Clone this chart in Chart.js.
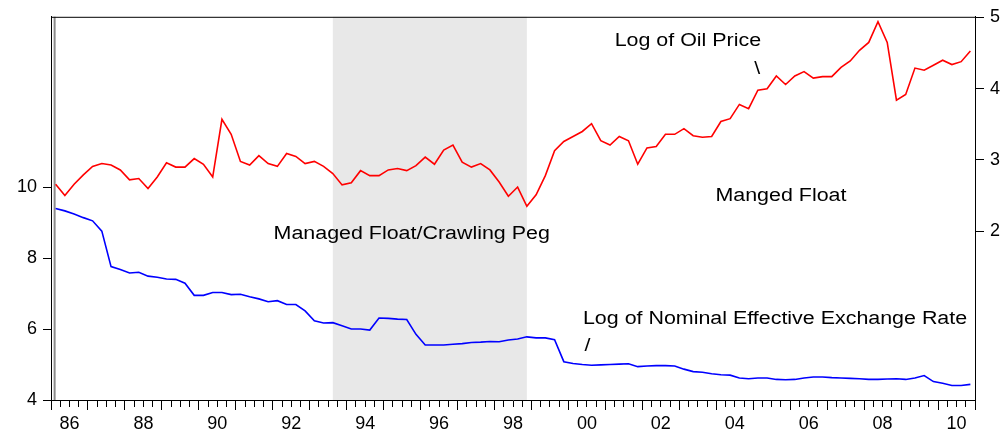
<!DOCTYPE html>
<html>
<head>
<meta charset="utf-8">
<script src="https://cdn.jsdelivr.net/npm/chart.js@4"></script>
<style>
html,body{margin:0;padding:0;background:#ffffff;}
#wrap{width:1008px;height:438px;position:relative;}
</style>
</head>
<body>
<div id="wrap"><canvas id="c"></canvas></div>
<script>
// ---------------- data ----------------
const firstYear = 1986;
const lastYear = 2010;
const quarters = [];
for (let y = firstYear; y <= lastYear; y++) {
  for (let q = 1; q <= 4; q++) quarters.push(y + 'Q' + q);
}

// Log of Oil Price (right axis)
const oilLog = [
  2.66,2.50,2.66,2.79,2.91,2.95,2.93,2.86,2.72,2.74,
  2.60,2.76,2.96,2.90,2.90,3.02,2.94,2.76,3.57,3.36,
  2.98,2.93,3.06,2.95,2.91,3.09,3.05,2.95,2.98,2.91,
  2.81,2.65,2.68,2.85,2.78,2.78,2.86,2.88,2.85,2.92,
  3.04,2.94,3.14,3.21,2.97,2.90,2.95,2.86,2.69,2.49,
  2.62,2.35,2.51,2.78,3.13,3.26,3.33,3.40,3.51,3.27,
  3.21,3.33,3.27,2.94,3.17,3.19,3.36,3.36,3.44,3.34,
  3.32,3.33,3.54,3.58,3.78,3.72,3.98,4.00,4.18,4.06,
  4.18,4.24,4.15,4.17,4.17,4.30,4.39,4.54,4.65,4.94,
  4.65,3.84,3.92,4.29,4.26,4.33,4.40,4.34,4.38,4.53
];

// Log of Nominal Effective Exchange Rate (left axis)
const neerLog = [
  9.40,9.33,9.24,9.14,9.05,8.76,7.76,7.68,7.58,7.60,
  7.49,7.46,7.41,7.40,7.29,6.95,6.95,7.03,7.03,6.97,
  6.98,6.91,6.85,6.77,6.80,6.69,6.69,6.51,6.23,6.17,
  6.18,6.09,6.00,6.00,5.97,6.31,6.30,6.28,6.27,5.85,
  5.55,5.55,5.55,5.57,5.59,5.62,5.63,5.65,5.64,5.69,
  5.72,5.78,5.75,5.75,5.70,5.08,5.03,5.00,4.98,4.99,
  5.00,5.01,5.02,4.94,4.96,4.97,4.97,4.96,4.87,4.80,
  4.78,4.74,4.71,4.70,4.62,4.60,4.62,4.62,4.58,4.57,
  4.58,4.62,4.65,4.65,4.63,4.62,4.61,4.60,4.58,4.58,
  4.59,4.60,4.58,4.62,4.69,4.52,4.47,4.41,4.41,4.44
];

const leftTicks = [4, 6, 8, 10];
const rightTicks = [2, 3, 4, 5];
const yearTickLabels = ['86','88','90','92','94','96','98','00','02','04','06','08','10'];

// shaded regimes (from / to observation)
const shadeFrom = ['1993Q3', '1986Q1'];
const shadeTo   = ['1998Q4', '1986Q1'];

// text annotations, anchored in data coordinates (category index, left-axis value)
const noteTexts = ['Log of Oil Price', '\\', 'Manged Float', 'Managed Float/Crawling Peg',
                   'Log of Nominal Effective Exchange Rate', '/'];
const noteIdx   = [60.5, 75.6, 71.41, 23.59, 57.07, 57.23];
const noteVal   = [13.97, 13.20, 9.60, 8.55, 6.14, 5.39];

// ---------------- chart ----------------
const FONT = '"Liberation Sans", Arial, Helvetica, sans-serif';
Chart.defaults.font.family = FONT;
Chart.defaults.font.size = 18;
Chart.defaults.color = '#000';

const shadePlugin = {
  id: 'shade',
  beforeDatasetsDraw(chart) {
    const {ctx, chartArea, scales} = chart;
    const xs = scales.x;
    ctx.save();
    for (let k = 0; k < shadeFrom.length; k++) {
      const x1 = xs.getPixelForValue(quarters.indexOf(shadeFrom[k]));
      const x2 = xs.getPixelForValue(quarters.indexOf(shadeTo[k]));
      if (Math.abs(x2 - x1) < 1) {
        ctx.strokeStyle = '#8c8c8c';
        ctx.lineWidth = 2;
        ctx.beginPath();
        ctx.moveTo(x1 - 1, chartArea.top);
        ctx.lineTo(x1 - 1, chartArea.bottom);
        ctx.stroke();
      } else {
        ctx.fillStyle = '#e8e8e8';
        ctx.fillRect(x1, chartArea.top, x2 - x1, chartArea.bottom - chartArea.top);
      }
    }
    ctx.restore();
  }
};

const framePlugin = {
  id: 'frame',
  afterDatasetsDraw(chart) {
    const {ctx, chartArea} = chart;
    ctx.save();
    ctx.strokeStyle = '#000';
    ctx.lineWidth = 1;
    ctx.beginPath();
    ctx.moveTo(chartArea.left, chartArea.top + 0.5);
    ctx.lineTo(chartArea.right, chartArea.top + 0.5);
    ctx.stroke();
    ctx.restore();
  }
};

const notesPlugin = {
  id: 'notes',
  afterDatasetsDraw(chart) {
    const {ctx, scales} = chart;
    ctx.save();
    ctx.fillStyle = '#000';
    ctx.font = '18px ' + FONT;
    ctx.textAlign = 'left';
    ctx.textBaseline = 'alphabetic';
    for (let k = 0; k < noteTexts.length; k++) {
      const px = scales.x.getPixelForValue(noteIdx[k]);
      const py = scales.y.getPixelForValue(noteVal[k]);
      ctx.save();
      ctx.translate(px, py);
      ctx.scale(1.19, 1);
      ctx.fillText(noteTexts[k], 0, 0);
      ctx.restore();
    }
    ctx.restore();
  }
};

new Chart(document.getElementById('c'), {
  type: 'line',
  data: {
    labels: quarters,
    datasets: [
      {
        label: 'Log of Oil Price',
        data: oilLog,
        yAxisID: 'y1',
        borderColor: '#ff0000',
        borderWidth: 1.6,
        pointRadius: 0,
        tension: 0,
        fill: false
      },
      {
        label: 'Log of Nominal Effective Exchange Rate',
        data: neerLog,
        yAxisID: 'y',
        borderColor: '#0000ff',
        borderWidth: 1.6,
        pointRadius: 0,
        tension: 0,
        fill: false
      }
    ]
  },
  options: {
    responsive: true,
    maintainAspectRatio: false,
    animation: false,
    devicePixelRatio: 1,
    layout: { padding: { top: 14, left: 0, right: 0, bottom: 0 } },
    plugins: { legend: { display: false }, tooltip: { enabled: false } },
    scales: {
      x: {
        type: 'category',
        offset: true,
        grid: {
          display: true,
          drawOnChartArea: false,
          offset: true,
          tickLength: 10,
          tickColor: '#000',
          tickWidth: 1,
          tickBorderDash: (ctx) => (ctx.type !== 'tick' || ctx.index % 4 === 0) ? [] : [6, 30]
        },
        border: { display: true, color: '#000', width: 1 },
        ticks: {
          autoSkip: false,
          maxRotation: 0,
          minRotation: 0,
          padding: 3,
          labelOffset: 4.625,
          color: '#000',
          font: { size: 18 },
          callback: function (value, index) {
            const lab = quarters[index];
            const yy = lab.slice(2, 4);
            return (lab.slice(5) === '2' && yearTickLabels.includes(yy)) ? yy : '';
          }
        },
        afterFit: (s) => { s.height = 38; }
      },
      y: {
        position: 'left',
        min: 4,
        max: 14.8,
        afterBuildTicks: (s) => { s.ticks = leftTicks.map(v => ({ value: v })); },
        grid: { display: true, drawOnChartArea: false, tickLength: 8, tickColor: '#000' },
        border: { display: true, color: '#000', width: 1 },
        ticks: { padding: 6, color: '#000', font: { size: 18 }, callback: (v) => String(v) },
        afterFit: (s) => { s.width = 51; }
      },
      y1: {
        position: 'right',
        min: -0.37,
        max: 5.01,
        afterBuildTicks: (s) => { s.ticks = rightTicks.map(v => ({ value: v })); },
        grid: { display: true, drawOnChartArea: false, tickLength: 9, tickColor: '#000' },
        border: { display: true, color: '#000', width: 1 },
        ticks: { padding: 6, color: '#000', font: { size: 18 }, callback: (v) => String(v) },
        afterFit: (s) => { s.width = 33; }
      }
    }
  },
  plugins: [shadePlugin, framePlugin, notesPlugin]
});
</script>
</body>
</html>
